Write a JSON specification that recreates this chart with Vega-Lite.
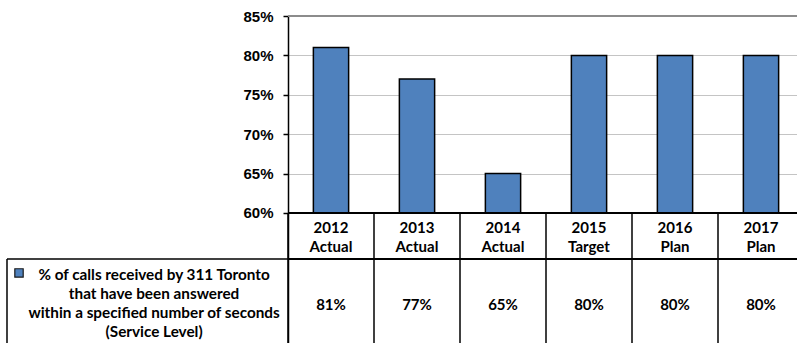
{
  "$schema": "https://vega.github.io/schema/vega-lite/v6.json",
  "padding": {"left": 0, "top": 9, "right": 0, "bottom": 0},
  "bounds": "flush",
  "spacing": 0,
  "background": "white",
  "config": {
    "view": {"stroke": null},
    "text": {"font": "Lato", "fontWeight": "bold", "fontSize": 15, "color": "black"}
  },
  "datasets": {
    "kpi": [
      {"period": "2012\nActual", "v": 0.81},
      {"period": "2013\nActual", "v": 0.77},
      {"period": "2014\nActual", "v": 0.65},
      {"period": "2015\nTarget", "v": 0.80},
      {"period": "2016\nPlan", "v": 0.80},
      {"period": "2017\nPlan", "v": 0.80}
    ],
    "series": [
      {"name": "% of calls received by 311 Toronto\nthat have been answered\nwithin a specified number of seconds\n(Service Level)"}
    ]
  },
  "hconcat": [
    {
      "width": 288,
      "height": 327,
      "data": {"name": "series"},
      "layer": [
        {
          "mark": {"type": "rule", "color": "black", "strokeWidth": 1.5},
          "encoding": {
            "x": {"datum": 0.0243, "type": "quantitative", "scale": {"domain": [0, 1], "nice": false, "zero": false}, "axis": null},
            "x2": {"datum": 1},
            "y": {"datum": 0.5416, "type": "quantitative", "scale": {"domain": [0.435, 0.85], "nice": false, "zero": false}, "axis": null}
          }
        },
        {
          "mark": {"type": "rule", "color": "black", "strokeWidth": 1.5},
          "encoding": {
            "x": {"datum": 0.0243, "type": "quantitative"},
            "y": {"datum": 0.5416, "type": "quantitative"},
            "y2": {"datum": 0.435}
          }
        },
        {
          "mark": {"type": "point", "shape": "square", "filled": true, "fill": "#4F81BD", "stroke": "#1a1a1a", "strokeWidth": 1.2, "size": 70, "opacity": 1},
          "encoding": {
            "x": {"datum": 0.066, "type": "quantitative"},
            "y": {"datum": 0.5239, "type": "quantitative"}
          }
        },
        {
          "mark": {"type": "text", "align": "center", "baseline": "middle", "lineBreak": "\n", "lineHeight": 19, "fontSize": 15.3},
          "encoding": {
            "x": {"datum": 0.535, "type": "quantitative"},
            "y": {"datum": 0.5213, "type": "quantitative"},
            "text": {"field": "name"}
          }
        }
      ]
    },
    {
      "width": 509,
      "height": 327,
      "data": {"name": "kpi"},
      "layer": [
        {
          "mark": {"type": "bar", "fill": "#4F81BD", "stroke": "black", "strokeWidth": 1.5, "width": {"band": 0.41}},
          "encoding": {
            "x": {"field": "period", "type": "nominal", "sort": null, "scale": {"type": "band", "range": [0, 516], "paddingInner": 0, "paddingOuter": 0}, "axis": null},
            "y": {
              "field": "v", "type": "quantitative",
              "scale": {"domain": [0.435, 0.85], "nice": false, "zero": false},
              "axis": {
                "values": [0.6, 0.65, 0.7, 0.75, 0.8, 0.85],
                "format": ".0%",
                "title": null,
                "grid": true,
                "gridColor": "#c4c4c4",
                "gridWidth": 1,
                "domainColor": "black",
                "domainWidth": 1.5,
                "tickColor": "black",
                "tickWidth": 1.5,
                "tickSize": 5,
                "labelFont": "Liberation Sans",
                "labelFontWeight": "bold",
                "labelFontSize": 15,
                "labelColor": "black",
                "labelPadding": 10
              }
            },
            "y2": {"datum": 0.6}
          }
        },
        {
          "mark": {"type": "rule", "color": "#8c8c8c", "strokeWidth": 1.5},
          "encoding": {"y": {"datum": 0.85, "type": "quantitative"}}
        },
        {
          "mark": {"type": "rule", "color": "black", "strokeWidth": 1.5},
          "encoding": {"y": {"datum": 0.6, "type": "quantitative"}}
        },
        {
          "mark": {"type": "rule", "color": "black", "strokeWidth": 1.5},
          "encoding": {"y": {"datum": 0.5416, "type": "quantitative"}}
        },
        {
          "mark": {"type": "rule", "color": "black", "strokeWidth": 1.5},
          "encoding": {
            "x": {"field": "period", "type": "nominal", "sort": null, "bandPosition": 0},
            "y": {"datum": 0.6, "type": "quantitative"},
            "y2": {"datum": 0.435}
          }
        },
        {
          "mark": {"type": "text", "align": "center", "baseline": "middle", "lineBreak": "\n", "lineHeight": 19},
          "encoding": {
            "x": {"field": "period", "type": "nominal", "sort": null},
            "y": {"datum": 0.581, "type": "quantitative"},
            "text": {"field": "period"}
          }
        },
        {
          "mark": {"type": "text", "align": "center", "baseline": "middle"},
          "encoding": {
            "x": {"field": "period", "type": "nominal", "sort": null},
            "y": {"datum": 0.4835, "type": "quantitative"},
            "text": {"field": "v", "format": ".0%"}
          }
        }
      ]
    }
  ]
}
